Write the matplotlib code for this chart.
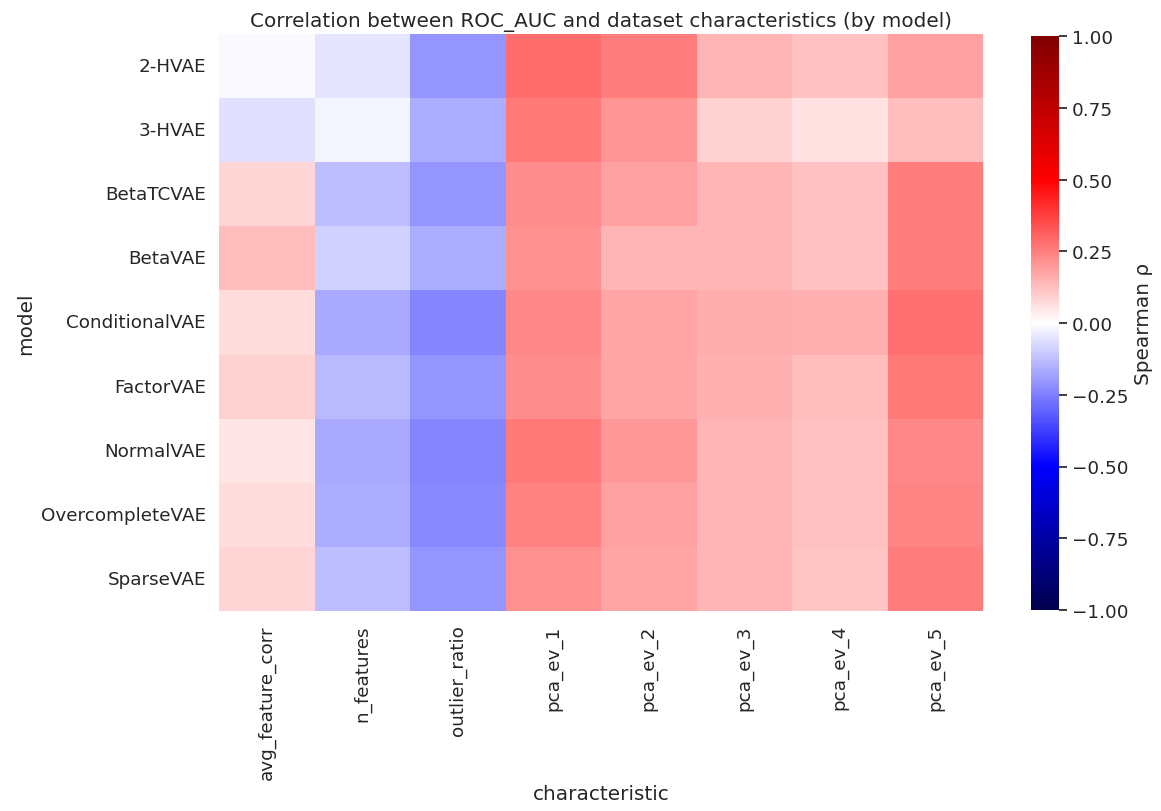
import numpy as np
import pandas as pd
import matplotlib
matplotlib.use("Agg")
import matplotlib.pyplot as plt
import seaborn as sns

models = ["2-HVAE", "3-HVAE", "BetaTCVAE", "BetaVAE", "ConditionalVAE",
          "FactorVAE", "NormalVAE", "OvercompleteVAE", "SparseVAE"]
characteristics = ["avg_feature_corr", "n_features", "outlier_ratio", "pca_ev_1",
                   "pca_ev_2", "pca_ev_3", "pca_ev_4", "pca_ev_5"]

# spearman rho per model (rows) and characteristic (columns)
rho_2hvae = [-0.015, -0.05, -0.21, 0.285, 0.255, 0.147, 0.124, 0.186]
rho_3hvae = [-0.06, -0.02, -0.16, 0.26, 0.21, 0.09, 0.055, 0.127]
rho_betatc = [0.085, -0.127, -0.21, 0.225, 0.18, 0.147, 0.118, 0.25]
rho_beta = [0.127, -0.088, -0.16, 0.214, 0.147, 0.147, 0.124, 0.253]
rho_cond = [0.069, -0.17, -0.237, 0.23, 0.178, 0.163, 0.151, 0.28]
rho_factor = [0.088, -0.14, -0.21, 0.225, 0.178, 0.155, 0.131, 0.265]
rho_normal = [0.053, -0.167, -0.237, 0.265, 0.196, 0.143, 0.124, 0.233]
rho_overc = [0.069, -0.163, -0.23, 0.245, 0.186, 0.143, 0.124, 0.237]
rho_sparse = [0.084, -0.127, -0.21, 0.218, 0.178, 0.147, 0.116, 0.25]

df = pd.DataFrame([rho_2hvae, rho_3hvae, rho_betatc, rho_beta, rho_cond,
                   rho_factor, rho_normal, rho_overc, rho_sparse],
                  index=pd.Index(models, name="model"),
                  columns=pd.Index(characteristics, name="characteristic"))

sns.set_theme(style="white", font_scale=1.2)

fig = plt.figure(figsize=(11.61, 8.12), dpi=100)
ax = fig.add_axes([219 / 1161, 1 - 612 / 812, (983 - 219) / 1161, (612 - 35) / 812])
cax = fig.add_axes([1031 / 1161, 1 - 611 / 812, 28 / 1161, (611 - 37) / 812])

sns.heatmap(df, cmap="seismic", vmin=-1, vmax=1, ax=ax, cbar_ax=cax,
            cbar_kws={"label": "Spearman ρ", "ticks": np.arange(-1, 1.01, 0.25)})
cax.set_yticklabels([f"{t:.2f}".replace("-", "\u2212") for t in np.arange(-1, 1.01, 0.25)])
ax.set_title("Correlation between ROC_AUC and dataset characteristics (by model)", pad=6)
ax.tick_params(axis="x", rotation=90)
ax.tick_params(axis="y", rotation=0)

fig.savefig("out.png", dpi=100)
